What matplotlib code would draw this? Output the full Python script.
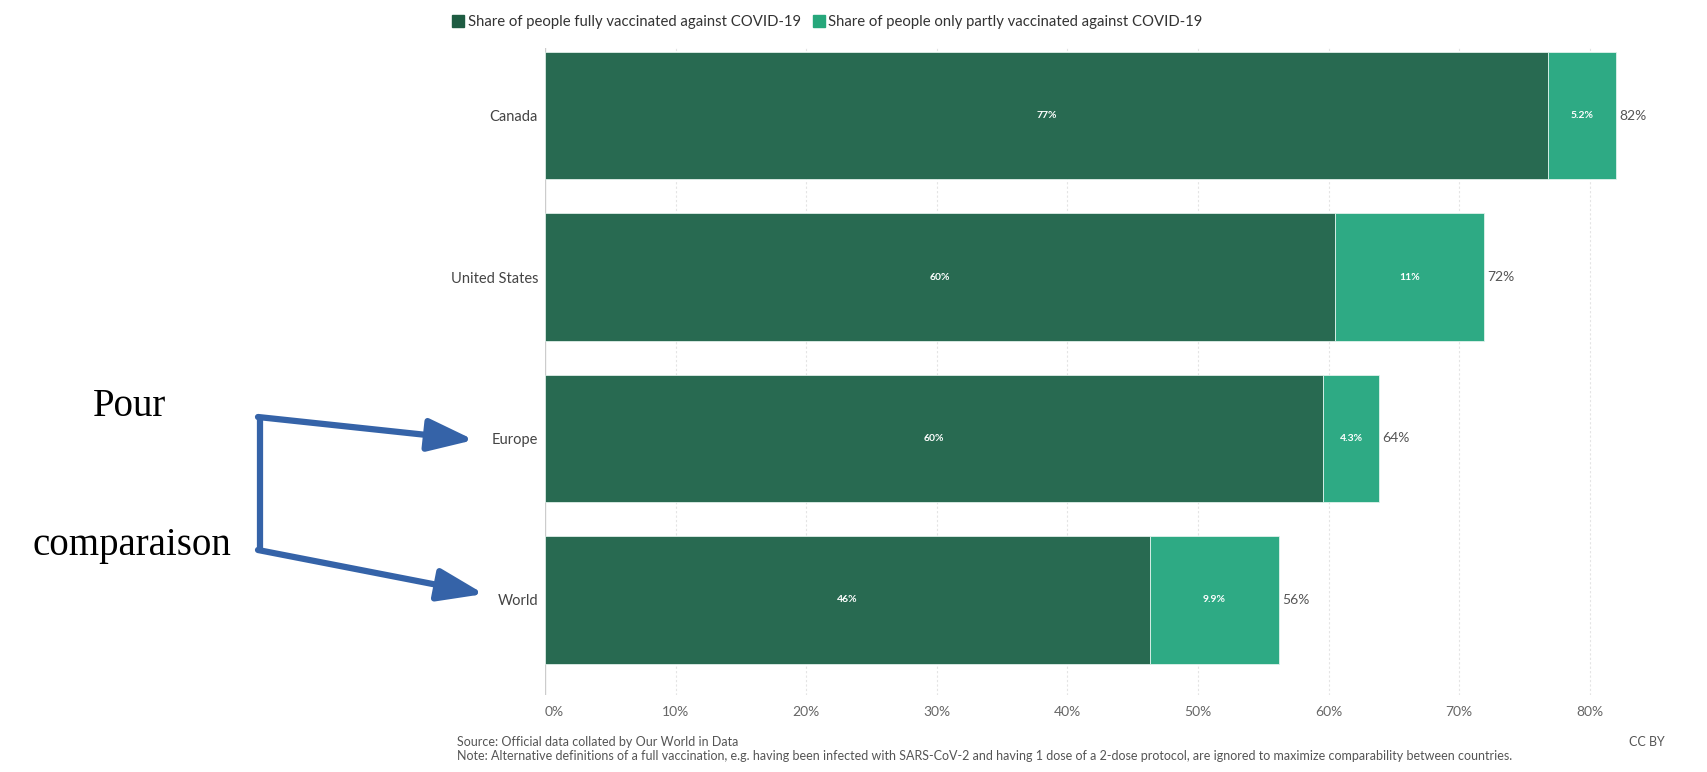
import matplotlib
matplotlib.use("Agg")
import matplotlib.pyplot as plt
from matplotlib.lines import Line2D
from matplotlib.patches import FancyArrowPatch

categories = ["Canada", "United States", "Europe", "World"]
fully = [76.8, 60.5, 59.6, 46.3]
partly = [5.2, 11.4, 4.3, 9.9]
fully_labels = ["77%", "60%", "60%", "46%"]
partly_labels = ["5.2%", "11%", "4.3%", "9.9%"]
total_labels = ["82%", "72%", "64%", "56%"]
xticks = [0, 10, 20, 30, 40, 50, 60, 70, 80]
xtick_labels = ["0%", "10%", "20%", "30%", "40%", "50%", "60%", "70%", "80%"]
legend_labels = ["Share of people fully vaccinated against COVID-19",
                 "Share of people only partly vaccinated against COVID-19"]
source_text = "Source: Official data collated by Our World in Data"
note_text = ("Note: Alternative definitions of a full vaccination, e.g. having been infected with "
             "SARS-CoV-2 and having 1 dose of a 2-dose protocol, are ignored to maximize "
             "comparability between countries.")

DARK = "#286A51"
LIGHT = "#2EAA84"
FONT = ["Lato", "DejaVu Sans"]

W, H = 1707, 772
fig = plt.figure(figsize=(W / 100, H / 100), dpi=100)
fig.patch.set_facecolor("white")

ax_left, ax_right, ax_top, ax_bottom = 545, 1655, 48, 695
ax = fig.add_axes([ax_left / W, 1 - ax_bottom / H, (ax_right - ax_left) / W, (ax_bottom - ax_top) / H])
ax.set_xlim(0, 85)
ax.set_ylim(3.59, -0.42)

y = list(range(len(categories)))
bh = 0.79
ax.barh(y, fully, height=bh, color=DARK, edgecolor="#dfeee8", linewidth=0.6, zorder=3)
ax.barh(y, partly, left=fully, height=bh, color=LIGHT, edgecolor="#dff3ec", linewidth=0.6, zorder=3)

for i in y:
    ax.text(fully[i] / 2, i, fully_labels[i], ha="center", va="center", color="white",
            fontsize=7.5, fontweight="bold", family=FONT, zorder=4)
    ax.text(fully[i] + partly[i] / 2, i, partly_labels[i], ha="center", va="center", color="white",
            fontsize=7.5, fontweight="bold", family=FONT, zorder=4)
    ax.text(fully[i] + partly[i] + 0.25, i, total_labels[i], ha="left", va="center", color="#555555",
            fontsize=10, family=FONT, zorder=4)

for s in ax.spines.values():
    s.set_visible(False)
ax.set_xticks(xticks)
ax.set_xticklabels(xtick_labels, family=FONT, fontsize=10, color="#666666")
ax.tick_params(axis="x", length=0, pad=8)
ax.set_yticks(y)
ax.set_yticklabels(categories, family=FONT, fontsize=10.5, color="#444444")
ax.tick_params(axis="y", length=0, pad=5)
for t in xticks[1:]:
    ax.axvline(t, color="#e4e4e4", linestyle=(0, (2, 2)), linewidth=0.8, zorder=1)
ax.axvline(0, color="#cccccc", linewidth=1.0, zorder=2)
ax.get_xticklabels()[0].set_horizontalalignment("left")

# Legend
handles = [Line2D([], [], marker="s", linestyle="none", markersize=9, color="#1E5C42"),
           Line2D([], [], marker="s", linestyle="none", markersize=9, color="#26A77B")]
fig.legend(handles, legend_labels, loc="center left", bbox_to_anchor=(436 / W, 1 - 22 / H),
           ncol=2, frameon=False, prop={"family": FONT, "size": 10.7}, handletextpad=0.05,
           columnspacing=0.6, handlelength=1.2, labelcolor="#333333")

# Footer
fig.text(457 / W, 1 - 742 / H, source_text, family=FONT, fontsize=9, color="#555555", va="center")
fig.text(457 / W, 1 - 756 / H, note_text, family=FONT, fontsize=9, color="#555555", va="center")
fig.text(1665 / W, 1 - 742 / H, "CC BY", family=FONT, fontsize=9, color="#555555", va="center", ha="right")

# Annotation
fig.text(129 / W, 1 - 407 / H, "Pour", family=["Liberation Serif"], fontsize=28, color="black",
         ha="center", va="center")
fig.text(132 / W, 1 - 545 / H, "comparaison", family=["Liberation Serif"], fontsize=28, color="black",
         ha="center", va="center")
BLUE = "#3563A8"
fig.add_artist(Line2D([260 / W, 260 / W], [1 - 416 / H, 1 - 551 / H], color=BLUE, linewidth=4.5,
                      transform=fig.transFigure, solid_capstyle="butt"))
for (x0, y0), (x1, y1) in [((258, 417), (474, 440)), ((258, 550), (484, 594))]:
    arr = FancyArrowPatch((x0 / W, 1 - y0 / H), (x1 / W, 1 - y1 / H), transform=fig.transFigure,
                          arrowstyle="-|>,head_length=28,head_width=10", linewidth=4.5,
                          color=BLUE, mutation_scale=1, shrinkA=0, shrinkB=0)
    fig.add_artist(arr)

fig.savefig("out.png", dpi=100, facecolor="white")
